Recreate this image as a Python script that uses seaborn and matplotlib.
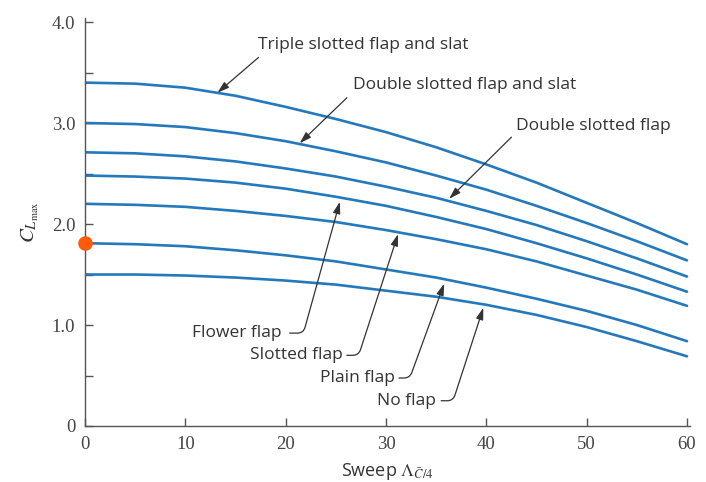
import matplotlib
matplotlib.use("Agg")
import matplotlib.pyplot as plt
import pandas as pd
import seaborn as sns

# Sweep angle of the quarter-chord line (deg)
sweep = [0, 5, 10, 15, 20, 25, 30, 35, 40, 45, 50, 55, 60]

# Maximum lift coefficient for each high-lift configuration
triple_slotted_flap_and_slat = [3.40, 3.39, 3.35, 3.27, 3.16, 3.04, 2.91, 2.76, 2.59, 2.41, 2.21, 2.01, 1.80]
double_slotted_flap_and_slat = [3.00, 2.99, 2.96, 2.90, 2.82, 2.72, 2.61, 2.48, 2.34, 2.18, 2.01, 1.83, 1.64]
double_slotted_flap = [2.71, 2.70, 2.67, 2.62, 2.55, 2.47, 2.37, 2.26, 2.13, 1.99, 1.83, 1.66, 1.48]
flower_flap = [2.48, 2.47, 2.45, 2.41, 2.35, 2.27, 2.18, 2.07, 1.95, 1.81, 1.66, 1.50, 1.33]
slotted_flap = [2.20, 2.19, 2.17, 2.13, 2.08, 2.02, 1.94, 1.85, 1.75, 1.63, 1.49, 1.35, 1.19]
plain_flap = [1.81, 1.80, 1.78, 1.74, 1.69, 1.63, 1.55, 1.47, 1.37, 1.26, 1.14, 1.00, 0.84]
no_flap = [1.50, 1.50, 1.49, 1.47, 1.44, 1.40, 1.34, 1.28, 1.20, 1.10, 0.98, 0.84, 0.69]

configurations = [
    "Triple slotted flap and slat",
    "Double slotted flap and slat",
    "Double slotted flap",
    "Flower flap",
    "Slotted flap",
    "Plain flap",
    "No flap",
]
series = [
    triple_slotted_flap_and_slat,
    double_slotted_flap_and_slat,
    double_slotted_flap,
    flower_flap,
    slotted_flap,
    plain_flap,
    no_flap,
]

# Highlighted point on the vertical axis
highlight_sweep = [0]
highlight_cl = [1.81]

y_ticks = [0, 1.0, 2.0, 3.0, 4.0]
y_tick_labels = ["0", "1.0", "2.0", "3.0", "4.0"]
x_ticks = [0, 10, 20, 30, 40, 50, 60]

df = pd.DataFrame(
    [(name, s, v) for name, vals in zip(configurations, series) for s, v in zip(sweep, vals)],
    columns=["configuration", "sweep", "cl"],
)

sns.set_style("ticks")
plt.rcParams["font.family"] = ["Open Sans", "DejaVu Sans"]
plt.rcParams["mathtext.fontset"] = "stix"

LINE_BLUE = "#2479bd"
INK = "#333333"
AXIS_GREY = "#555555"

fig = plt.figure(figsize=(7.06, 4.82), dpi=100)
ax = fig.add_axes([85 / 706, 1 - 426 / 482, (690 - 85) / 706, (426 - 18) / 482])

sns.lineplot(
    data=df, x="sweep", y="cl", hue="configuration", hue_order=configurations,
    palette=[LINE_BLUE] * len(configurations), linewidth=1.9, legend=False, ax=ax,
    sort=False,
)
for line in ax.lines:
    line.set_solid_joinstyle("round")

ax.scatter(highlight_sweep, highlight_cl, s=110, color="#ff5a0a", zorder=5,
           clip_on=False, linewidths=0)

ax.set_xlim(0, 60.3)
ax.set_ylim(0, 4.04)
ax.set_xticks(x_ticks)
ax.set_xticklabels([str(t) for t in x_ticks])
ax.set_yticks(y_ticks)
ax.set_yticklabels(y_tick_labels)
ax.set_yticks([0.5, 1.5, 2.5, 3.5], minor=True)

for side in ("top", "right"):
    ax.spines[side].set_visible(False)
for side in ("left", "bottom"):
    ax.spines[side].set_color(AXIS_GREY)
    ax.spines[side].set_linewidth(1.0)

ax.tick_params(axis="both", which="both", direction="in", color=AXIS_GREY,
               width=1.0, labelcolor="#444444")
ax.tick_params(axis="both", which="major", length=6, pad=7)
ax.tick_params(axis="y", which="minor", length=6)
for lab in ax.get_xticklabels() + ax.get_yticklabels():
    lab.set_fontfamily(["Liberation Serif", "DejaVu Serif"])
    lab.set_fontsize(13.5)

ax.set_xlabel(r"Sweep $\Lambda_{\bar{C}/4}$", fontsize=13, color=INK, labelpad=6)
ax.set_ylabel(r"$C_{L_{\mathrm{max}}}$", fontsize=15, color=INK, labelpad=8)

arrow_kw = dict(arrowstyle="-|>,head_length=0.7,head_width=0.22", color=INK,
                lw=0.9, shrinkA=0, shrinkB=0, mutation_scale=10)
label_kw = dict(fontsize=12.5, color=INK, va="center")

# Labels above the curves with straight arrows
top_labels = [
    ("Triple slotted flap and slat", (17.2, 3.77), (17.3, 3.65), (13.2, 3.30)),
    ("Double slotted flap and slat", (26.7, 3.38), (26.1, 3.25), (21.4, 2.80)),
    ("Double slotted flap", (43.0, 2.97), (42.5, 2.86), (36.3, 2.25)),
]
for text, txy, start, tip in top_labels:
    ax.text(*txy, text, ha="left", **label_kw)
    ax.annotate("", xy=tip, xytext=start, arrowprops=arrow_kw)

# Labels below the curves with hooked leaders
bottom_labels = [
    ("Flower flap", (19.6, 0.92), (20.4, 0.92), (25.4, 2.22), 74.5),
    ("Slotted flap", (25.7, 0.70), (26.1, 0.70), (31.2, 1.90), 72.0),
    ("Plain flap", (30.85, 0.475), (31.3, 0.475), (35.8, 1.41), 70.0),
    ("No flap", (35.0, 0.25), (35.5, 0.25), (39.7, 1.17), 72.0),
]
for text, txy, start, tip, ang in bottom_labels:
    ax.text(*txy, text, ha="right", **label_kw)
    kw = dict(arrow_kw)
    kw["connectionstyle"] = f"angle,angleA=0,angleB={ang},rad=6"
    ax.annotate("", xy=tip, xytext=start, arrowprops=kw)

fig.savefig("out.png", dpi=100)
